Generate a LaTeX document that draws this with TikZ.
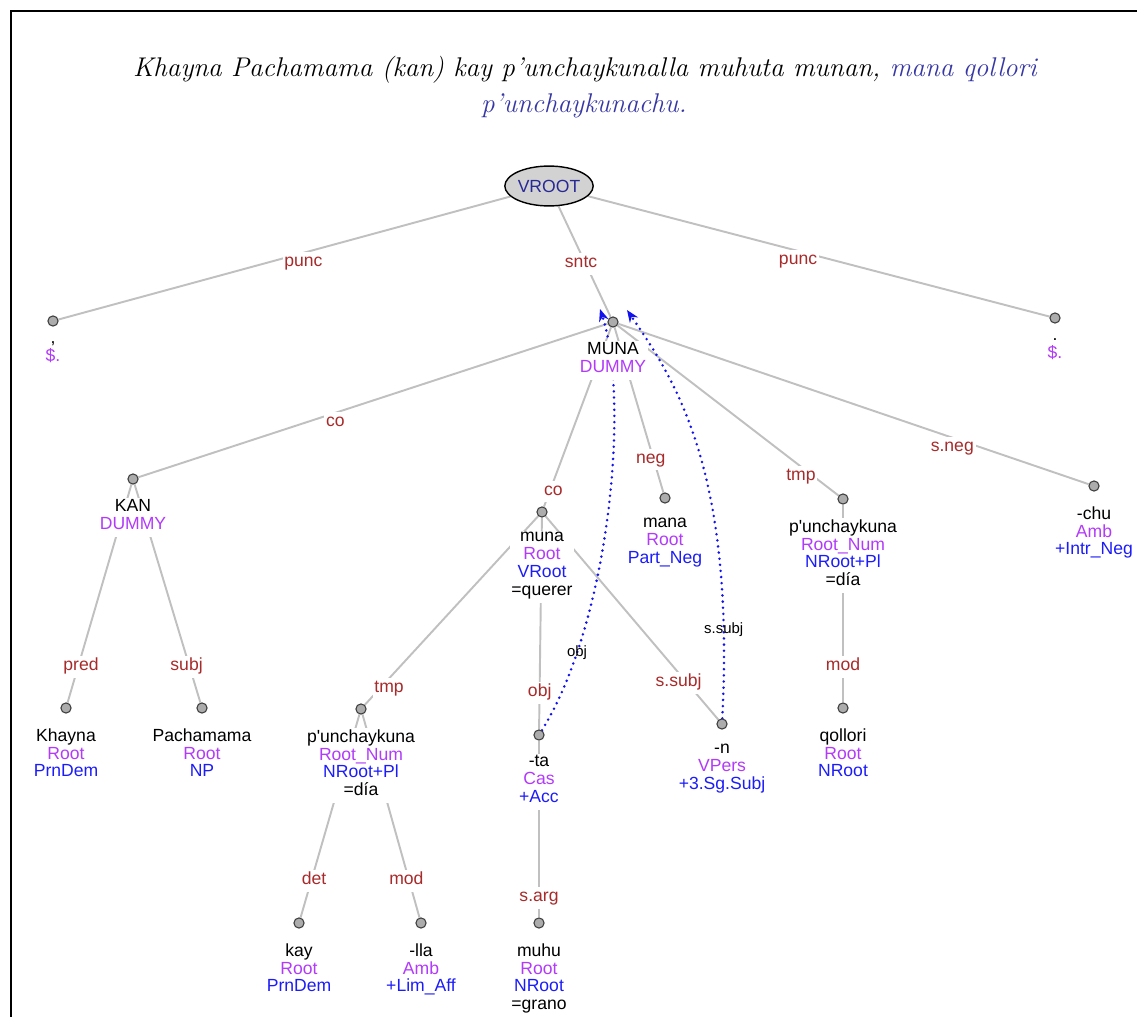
\documentclass[tikz,border=0pt]{standalone}
\usepackage{fontspec}
\newfontfamily\treefont{Liberation Sans}[Ligatures=TeXOff]
\usetikzlibrary{arrows.meta, shapes.geometric, backgrounds}

\definecolor{edgegray}{RGB}{192,192,192}
\definecolor{deprel}{RGB}{168,42,42}
\definecolor{tagpurple}{RGB}{178,58,250}
\definecolor{tagblue}{RGB}{28,28,250}
\definecolor{arcblue}{RGB}{18,18,240}
\definecolor{titleblue}{RGB}{55,55,165}
\definecolor{rootblue}{RGB}{40,40,150}
\definecolor{rootfill}{RGB}{210,210,210}
\definecolor{dotfill}{RGB}{172,172,172}
\definecolor{dotline}{RGB}{60,60,60}

\newcommand\mcat[1]{\textcolor{tagpurple}{#1}}
\newcommand\mtag[1]{\textcolor{tagblue}{#1}}
\newcommand\treesize{\treefont\fontsize{10}{10.2}\selectfont\lineskiplimit-5pt\relax}

\begin{document}
\begin{tikzpicture}[x=0.02cm, y=-0.02cm,
	treetext/.style={font=\treesize},
	tok/.style={circle, draw=dotline, fill=dotfill, line width=0.6pt, minimum size=5.8pt, inner sep=0pt},
	wlab/.style={treetext, fill=white, inner sep=1pt, align=center, yshift=-7.2pt, execute at begin node=\strut},
	rel/.style={treetext, fill=white, inner sep=1pt, text=deprel, yshift=-0.2cm, execute at begin node=\strut},
	link/.style={edgegray, line width=1.1pt},
	arc/.style={arcblue, line width=1.6pt, line cap=round, dash pattern=on 0pt off 3.5pt, -{Stealth[length=7pt, width=5.6pt]}},
	arclab/.style={font=\treefont\fontsize{8.5}{9}\selectfont, text=black, inner sep=0pt}]
	\useasboundingbox (0,0) rectangle (1137,1017);
	\draw[line width=0.9pt] (11,1017) -- (11,11) -- (1137,11);

	% sentence
	\node[anchor=base, font=\fontsize{15.4}{19.8}\selectfont\itshape] (title1) at (585,77)
		{Khayna Pachamama (kan) kay p'unchaykunalla muhuta munan, \textcolor{titleblue}{mana qollori}};
	\node[anchor=base, font=\fontsize{15.4}{19.8}\selectfont\itshape, text=titleblue] (title2) at (584,113)
		{p'unchaykunachu.};

	% tree
	\node[ellipse, draw, line width=0.8pt, fill=rootfill, minimum width=47.6pt, minimum height=22.7pt, inner sep=0pt, treetext, text=rootblue] (vroot) at (549,186) {VROOT};

	\node[tok, label={[wlab]below:{,\\\mcat{\$.}}}] (punc1) at (53,321) {};
	\node[tok, label={[wlab]below:{MUNA\\\mcat{DUMMY}}}] (muna0) at (613,322) {};
	\node[tok, label={[wlab]below:{.\\\mcat{\$.}}}] (punc2) at (1055,318) {};

	\node[tok, label={[wlab]below:{KAN\\\mcat{DUMMY}}}] (kan) at (133,479) {};
	\node[tok, label={[wlab]below:{muna\\\mcat{Root}\\\mtag{VRoot}\\=querer}}] (muna) at (542,512) {};
	\node[tok, label={[wlab]below:{mana\\\mcat{Root}\\\mtag{Part\_Neg}}}] (mana) at (665,498) {};
	\node[tok, label={[wlab]below:{p'unchaykuna\\\mcat{Root\_Num}\\\mtag{NRoot+Pl}\\=día}}] (punchR) at (843,499) {};
	\node[tok, label={[wlab]below:{-chu\\\mcat{Amb}\\\mtag{+Intr\_Neg}}}] (chu) at (1094,486) {};

	\node[tok, label={[wlab]below:{Khayna\\\mcat{Root}\\\mtag{PrnDem}}}] (khayna) at (66,708) {};
	\node[tok, label={[wlab]below:{Pachamama\\\mcat{Root}\\\mtag{NP}}}] (pacha) at (202,708) {};
	\node[tok, label={[wlab]below:{p'unchaykuna\\\mcat{Root\_Num}\\\mtag{NRoot+Pl}\\=día}}] (punchL) at (361,709) {};
	\node[tok, label={[wlab]below:{-ta\\\mcat{Cas}\\\mtag{+Acc}}}] (ta) at (539,735) {};
	\node[tok, label={[wlab]below:{-n\\\mcat{VPers}\\\mtag{+3.Sg.Subj}}}] (n) at (722,724) {};
	\node[tok, label={[wlab]below:{qollori\\\mcat{Root}\\\mtag{NRoot}}}] (qollori) at (843,708) {};

	\node[tok, label={[wlab]below:{kay\\\mcat{Root}\\\mtag{PrnDem}}}] (kay) at (299,923) {};
	\node[tok, label={[wlab]below:{-lla\\\mcat{Amb}\\\mtag{+Lim\_Aff}}}] (lla) at (421,923) {};
	\node[tok, label={[wlab]below:{muhu\\\mcat{Root}\\\mtag{NRoot}\\=grano}}] (muhu) at (539,923) {};

	\coordinate (objend) at (600,309);
	\coordinate (ssubjend) at (627,310);

	\begin{scope}[on background layer]
		\draw[link] (vroot) -- node[rel, pos=0.458] {punc} (punc1);
		\draw[link] (vroot) -- node[rel, pos=0.433] {sntc} (muna0);
		\draw[link] (vroot) -- node[rel, pos=0.455] {punc} (punc2);

		\draw[link] (muna0) -- node[rel, pos=0.58] {co} (kan);
		\draw[link] (muna0) -- node[rel, pos=0.86] {co} (muna);
		\draw[link] (muna0) -- node[rel, pos=0.74] {neg} (mana);
		\draw[link] (muna0) -- node[rel, pos=0.83] {tmp} (punchR);
		\draw[link] (muna0) -- node[rel, pos=0.71] {s.neg} (chu);

		\draw[link] (kan) -- node[rel, pos=0.79] {pred} (khayna);
		\draw[link] (kan) -- node[rel, pos=0.79] {subj} (pacha);
		\draw[link] (muna) -- node[rel, pos=0.86] {tmp} (punchL);
		\draw[link] (muna) -- node[rel, pos=0.78] {obj} (ta);
		\draw[link] (muna) -- node[rel, pos=0.77] {s.subj} (n);
		\draw[link] (punchR) -- node[rel, pos=0.77] {mod} (qollori);

		\draw[link] (punchL) -- node[rel, pos=0.77] {det} (kay);
		\draw[link] (punchL) -- node[rel, pos=0.77] {mod} (lla);
		\draw[link] (ta) -- node[rel, pos=0.835] {s.arg} (muhu);

		% secondary arcs
		\draw[arc] (ta) .. controls (610,620) and (630,400) .. node[arclab, pos=0.2] {obj} (objend);
		\draw[arc] (n) .. controls (735,470) and (675,380) .. node[arclab, pos=0.13] {s.subj} (ssubjend);
	\end{scope}
\end{tikzpicture}
\end{document}
